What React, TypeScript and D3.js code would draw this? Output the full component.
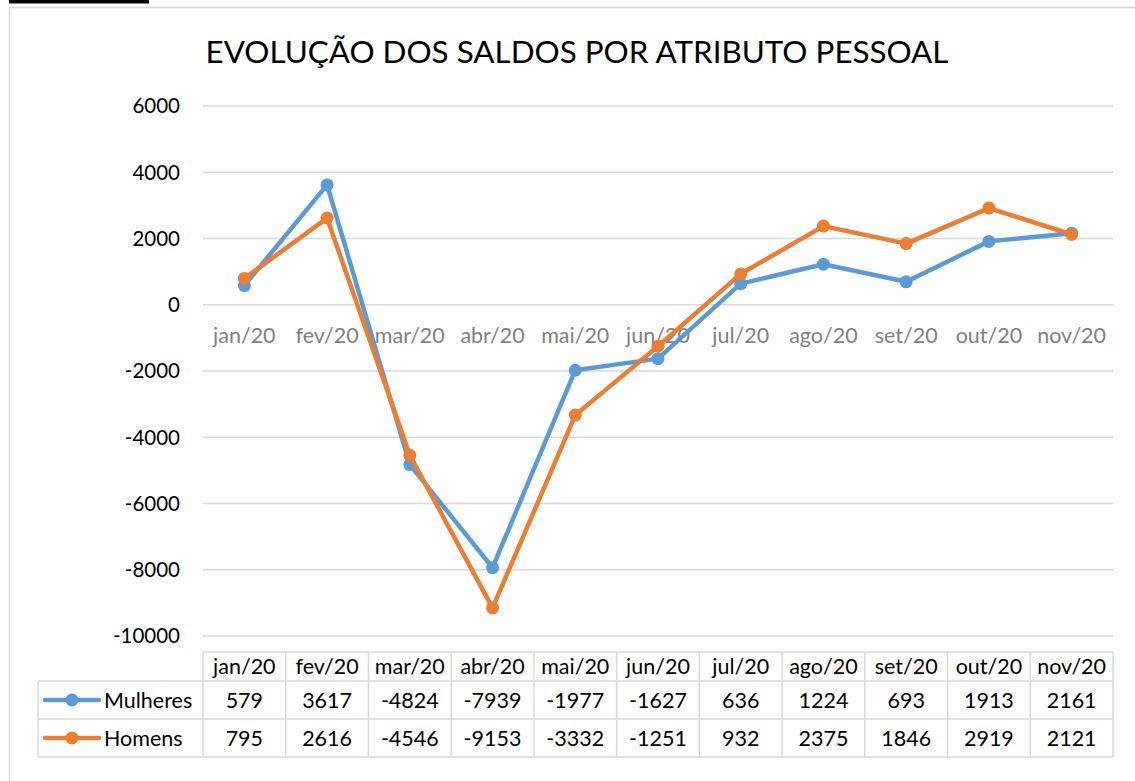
import React from "react";
import * as d3 from "d3";

const categories = ["jan/20","fev/20","mar/20","abr/20","mai/20","jun/20","jul/20","ago/20","set/20","out/20","nov/20"];
const mulheres = [579,3617,-4824,-7939,-1977,-1627,636,1224,693,1913,2161];
const homens = [795,2616,-4546,-9153,-3332,-1251,932,2375,1846,2919,2121];
const yTicks = [6000,4000,2000,0,-2000,-4000,-6000,-8000,-10000];
const seriesNames = ["Mulheres","Homens"];
const colors = ["#5B9BD5","#ED7D31"];

const W = 1135, H = 781;
const FONT = "Lato, 'Noto Sans', sans-serif";

export default function App() {
  const left = 203, right = 1113;
  const x = d3.scaleBand<string>().domain(categories).range([left, right]).padding(0);
  const y = d3.scaleLinear().domain([-10000, 6000]).range([636, 106]);
  const cx = (c: string) => (x(c) as number) + x.bandwidth() / 2;
  const line = d3.line<number>().x((_, i) => cx(categories[i])).y((d) => y(d));
  const series = [mulheres, homens];
  const tableTop = 652, headerH = 29, rowH = 38, legendLeft = 38;
  const fs = 21.5;

  return (
    <svg width={W} height={H} style={{ position: "absolute", left: 0, top: 0, fontFamily: FONT }}>
      <rect x={0} y={0} width={W} height={H} fill="#fff" />
      <rect x={9} y={0} width={140} height={3.5} fill="#000" />
      <path d={`M9.5,${H} L9.5,7.5 L${W},7.5`} fill="none" stroke="#d9d9d9" strokeWidth={1.5} />
      <text x={577} y={63} textAnchor="middle" fontSize={31} fill="#000" textLength={743} lengthAdjust="spacingAndGlyphs">
        EVOLUÇÃO DOS SALDOS POR ATRIBUTO PESSOAL
      </text>
      {yTicks.map((t) => (
        <g key={t}>
          <line x1={left} x2={right} y1={y(t)} y2={y(t)} stroke="#d9d9d9" strokeWidth={1.5} />
          <text x={180} y={y(t)} dy="0.36em" textAnchor="end" fontSize={20.5} fill="#000">{t}</text>
        </g>
      ))}
      {categories.map((c) => (
        <text key={c} x={cx(c)} y={y(0) + 38} textAnchor="middle" fontSize={fs} fill="#7f7f7f">{c}</text>
      ))}
      {series.map((s, si) => (
        <g key={si}>
          <path d={line(s) as string} fill="none" stroke={colors[si]} strokeWidth={4.5} strokeLinejoin="round" />
          {s.map((v, i) => (
            <circle key={i} cx={cx(categories[i])} cy={y(v)} r={6.5} fill={colors[si]} />
          ))}
        </g>
      ))}
      {/* data table */}
      <g stroke="#d9d9d9" strokeWidth={1.5} fill="none">
        <line x1={left} x2={right} y1={tableTop} y2={tableTop} />
        <line x1={legendLeft} x2={right} y1={tableTop + headerH} y2={tableTop + headerH} />
        <line x1={legendLeft} x2={right} y1={tableTop + headerH + rowH} y2={tableTop + headerH + rowH} />
        <line x1={legendLeft} x2={right} y1={tableTop + headerH + 2 * rowH} y2={tableTop + headerH + 2 * rowH} />
        <line x1={legendLeft} x2={legendLeft} y1={tableTop + headerH} y2={tableTop + headerH + 2 * rowH} />
        {categories.map((c) => (
          <line key={c} x1={x(c) as number} x2={x(c) as number} y1={tableTop} y2={tableTop + headerH + 2 * rowH} />
        ))}
        <line x1={right} x2={right} y1={tableTop} y2={tableTop + headerH + 2 * rowH} />
      </g>
      {categories.map((c) => (
        <text key={c} x={cx(c)} y={tableTop + headerH / 2} dy="0.36em" textAnchor="middle" fontSize={fs} fill="#000">{c}</text>
      ))}
      {series.map((s, si) => {
        const ry = tableTop + headerH + si * rowH + rowH / 2;
        return (
          <g key={si}>
            <line x1={45} x2={99} y1={ry} y2={ry} stroke={colors[si]} strokeWidth={4.5} strokeLinecap="round" />
            <circle cx={72} cy={ry} r={6.5} fill={colors[si]} />
            <text x={104} y={ry} dy="0.36em" fontSize={fs} fill="#000">{seriesNames[si]}</text>
            {s.map((v, i) => (
              <text key={i} x={cx(categories[i])} y={ry} dy="0.36em" textAnchor="middle" fontSize={fs} fill="#000">{v}</text>
            ))}
          </g>
        );
      })}
    </svg>
  );
}
